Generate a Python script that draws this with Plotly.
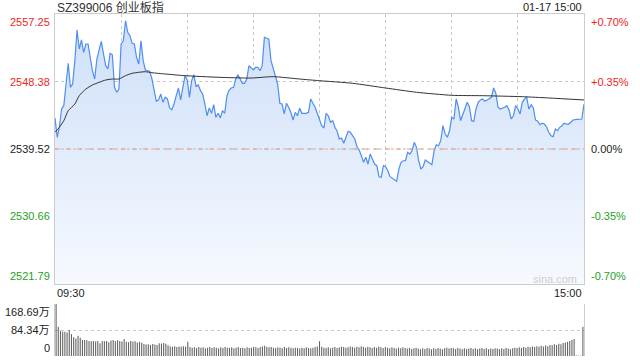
import plotly.graph_objects as go

# ---------------- data ----------------
title_text = "SZ399006 创业板指"
stamp_text = "01-17 15:00"
time_labels = ["09:30", "15:00"]
prev_close = 2539.52
price_ticks = [2557.25, 2548.38, 2539.52, 2530.66, 2521.79]
pct_labels = ["+0.70%", "+0.35%", "0.00%", "-0.35%", "-0.70%"]
vol_ticks = [168.69, 84.34, 0]
vol_labels = ["168.69万", "84.34万", "0"]

minutes = [0, 1, 2, 3, 4, 5, 6, 7, 8, 9, 10, 11, 12, 13, 14, 15, 16, 17, 18, 19,
           20, 21, 22, 23, 24, 25, 26, 27, 28, 29, 30, 31, 32, 33, 34, 35, 36, 37, 38, 39,
           40, 41, 43, 44, 45, 46, 47, 48, 49, 50, 51, 52, 53, 54, 55, 56, 57, 58, 59,
           60, 61, 62, 63, 64, 65, 66, 67, 68, 69, 70, 71, 72, 73, 74, 75, 76, 77, 78, 79,
           80, 81, 82, 83, 84, 85, 86, 87, 88, 89, 90, 91, 92, 93, 94, 95, 96, 97, 98, 99,
           100, 101, 102, 103, 104, 105, 106, 107, 108, 109, 110, 111, 112, 114, 115, 116, 117, 118, 119,
           120, 121, 122, 123, 124, 125, 126, 127, 128, 129, 130, 131, 132, 133, 134, 135, 136, 137, 138, 139,
           140, 141, 142, 143, 144, 145, 146, 147, 148, 149, 150, 151, 152, 153, 154, 155, 156, 157, 158, 159,
           160, 161, 162, 163, 164, 165, 166, 167, 168, 169, 170, 171, 172, 173, 174, 175, 176, 177, 178, 179,
           180, 181, 182, 183, 184, 185, 186, 187, 188, 189, 190, 191, 192, 193, 194, 195, 196, 197, 198, 199,
           200, 201, 202, 204, 205, 206, 207, 208, 209, 210, 211, 212, 213, 214, 215, 216, 217, 218, 219,
           220, 221, 222, 223, 224, 225, 226, 227, 228, 229, 230, 231, 232, 233, 234, 235, 237, 238, 239, 240]

prices = [2543.59, 2541.06, 2542.41, 2544.77, 2545.21, 2548.49, 2550.78, 2547.62, 2548.06, 2551.12,
          2555.15, 2552.65, 2553.84, 2552.22, 2553.31, 2553.31, 2551.56, 2549.80, 2548.71, 2551.34,
          2552.52, 2553.66, 2552.00, 2550.46, 2550.03, 2552.09, 2551.90, 2547.62, 2546.97, 2547.40,
          2553.31, 2553.74, 2556.37, 2554.85, 2554.40, 2553.40, 2553.31, 2551.56, 2550.68, 2553.74,
          2551.12, 2549.90, 2549.72, 2548.71, 2547.18, 2545.78, 2545.96, 2546.74, 2545.65, 2546.31,
          2546.09, 2544.91, 2544.68, 2545.43, 2546.52, 2547.53, 2545.96, 2547.40, 2549.15,
          2548.58, 2546.31, 2548.49, 2549.28, 2547.70, 2547.96, 2547.18, 2546.74, 2545.43, 2543.89,
          2544.91, 2544.21, 2545.34, 2543.68, 2544.21, 2543.59, 2544.55, 2544.21, 2546.52, 2547.27,
          2547.53, 2547.62, 2548.71, 2549.28, 2548.71, 2548.15, 2548.15, 2548.71, 2550.46, 2550.16,
          2549.90, 2550.25, 2550.25, 2549.80, 2550.46, 2554.19, 2554.10, 2553.93, 2551.12, 2550.03,
          2548.94, 2548.06, 2545.52, 2545.43, 2544.12, 2545.52, 2545.00, 2544.34, 2543.33, 2544.34,
          2543.89, 2544.87, 2544.21, 2544.21, 2544.34, 2546.09, 2545.52, 2545.00, 2544.21,
          2543.33, 2542.58, 2542.28, 2544.21, 2543.89, 2543.03, 2543.24, 2542.37, 2541.85, 2540.83,
          2540.97, 2540.27, 2541.06, 2541.85, 2541.71, 2541.27, 2540.83, 2539.82, 2539.39, 2538.64,
          2537.77, 2538.43, 2537.55, 2538.86, 2538.08, 2537.55, 2537.33, 2535.88, 2535.80, 2537.33,
          2537.20, 2536.67, 2535.88, 2535.67, 2535.49, 2535.28, 2536.89, 2537.77, 2537.98, 2537.98,
          2539.09, 2538.86, 2539.30, 2540.40, 2539.74, 2537.98, 2536.89, 2537.20, 2538.08, 2537.90,
          2537.64, 2537.46, 2539.30, 2540.08, 2539.95, 2540.61, 2542.58, 2541.49, 2541.06, 2541.92,
          2543.68, 2543.46, 2546.09, 2545.03, 2543.24, 2544.12, 2545.03, 2545.65, 2545.03, 2543.24,
          2543.16, 2544.77, 2545.65, 2545.96, 2546.09, 2545.78, 2545.96, 2546.09, 2546.31, 2547.53,
          2546.84, 2545.00, 2544.77, 2545.00, 2545.21, 2544.64, 2543.46, 2543.89, 2545.21, 2544.77,
          2544.12, 2545.65, 2546.09, 2546.31, 2544.77, 2545.34, 2544.91, 2543.33, 2543.16,
          2542.71, 2542.90, 2542.80, 2542.45, 2541.71, 2541.27, 2541.14, 2542.15, 2541.92, 2542.37,
          2542.58, 2542.90, 2542.80, 2542.80, 2543.03, 2543.33, 2543.42, 2543.42, 2543.46, 2545.43]

avg_minutes = [0, 2, 4, 6, 9, 11, 14, 17, 20, 23, 26, 29, 32, 35, 38, 41, 44, 50, 59,
               74, 89, 99, 111, 120, 135, 150, 164, 180, 194, 212, 224, 240]
avg_prices = [2541.71, 2542.37, 2543.24, 2544.55, 2545.43, 2546.52, 2547.40, 2547.93, 2548.28,
              2548.58, 2548.71, 2548.71, 2549.15, 2549.46, 2549.59, 2549.67, 2549.54, 2549.37,
              2549.15, 2548.94, 2548.84, 2549.02, 2548.71, 2548.49, 2548.15, 2547.53, 2546.97,
              2546.57, 2546.52, 2546.39, 2546.22, 2545.96]

volumes = [168.69, 95, 82, 79, 79, 76, 84, 71, 61, 57,
           66, 59, 52, 52, 51, 49, 48, 49, 47, 49,
           41, 49, 48, 49, 45, 50, 52, 48, 51, 49,
           47, 55, 46, 45, 49, 47, 48, 44, 46, 43,
           39, 37, 38, 36, 39, 37, 36, 41, 40, 42,
           40, 35, 31, 30, 32, 29, 31, 30, 32, 30,
           46, 29, 27, 28, 26, 29, 27, 28, 25, 27,
           29, 26, 28, 27, 25, 28, 26, 29, 27, 26,
           28, 25, 27, 29, 26, 27, 25, 28, 26, 27,
           30, 28, 26, 29, 31, 33, 30, 28, 29, 27,
           26, 28, 27, 25, 29, 26, 28, 27, 25, 27,
           26, 24, 27, 25, 28, 26, 25, 27, 29, 31,
           48, 30, 27, 26, 28, 25, 27, 29, 26, 28,
           30, 29, 27, 28, 31, 29, 27, 30, 28, 32,
           29, 27, 30, 28, 26, 29, 27, 31, 28, 26,
           29, 27, 25, 28, 26, 24, 27, 25, 28, 26,
           24, 26, 23, 25, 27, 24, 22, 25, 23, 26,
           24, 22, 25, 23, 26, 24, 22, 25, 27, 24,
           26, 25, 23, 26, 24, 22, 25, 23, 24, 26,
           23, 25, 22, 24, 26, 23, 25, 22, 24, 23,
           25, 24, 22, 25, 23, 26, 24, 22, 25, 27,
           26, 28, 26, 29, 27, 30, 28, 31, 29, 32,
           30, 33, 31, 34, 32, 36, 35, 38, 36, 40,
           38, 42, 44, 46, 49, 52, 55, 2, 1, 1,
           95]
vol_minutes = list(range(len(volumes)))

# ---------------- style ----------------
W, H = 640, 360
L, R = 55, 584
MAIN_T, MAIN_B = 14, 284
VOL_T, VOL_B = 304, 356
RED = "rgb(240,30,30)"
GREEN = "rgb(30,160,30)"
DARK = "#222"
GRID = "#c8c8c8"
FONT = "Liberation Sans, Arial, Noto Sans CJK SC, sans-serif"
tick_colors = [RED, RED, DARK, GREEN, GREEN]


def px_x(p):
    return p / W


def px_y(p):
    return 1 - p / H


fig = go.Figure()

# baseline for the gradient fill
fig.add_trace(go.Scatter(x=[minutes[0], minutes[-1]], y=[price_ticks[-1], price_ticks[-1]],
                         mode="lines", line=dict(width=0), hoverinfo="skip", showlegend=False))
fig.add_trace(go.Scatter(
    x=minutes, y=prices, mode="lines",
    line=dict(color="#4f8ef0", width=1.2),
    fill="tonexty",
    fillgradient=dict(type="vertical",
                      colorscale=[[0, "#f6f9fe"], [1, "#cddff9"]],
                      start=price_ticks[-1], stop=price_ticks[0]),
    hoverinfo="skip", showlegend=False))
fig.add_trace(go.Scatter(x=avg_minutes, y=avg_prices, mode="lines",
                         line=dict(color="#333333", width=1, shape="spline", smoothing=0.6),
                         hoverinfo="skip", showlegend=False))
fig.add_trace(go.Bar(x=vol_minutes, y=volumes, xaxis="x2", yaxis="y2",
                     marker=dict(color="#666666", line=dict(width=0)), width=0.5,
                     hoverinfo="skip", showlegend=False))

# zero (previous close) line: gray dots under orange dashes
fig.add_shape(type="line", xref="x", yref="y", x0=0, x1=240, y0=prev_close, y1=prev_close,
              line=dict(color="#bbbbbb", width=1, dash="dot"), layer="above")
fig.add_shape(type="line", xref="x", yref="y", x0=0, x1=240, y0=prev_close, y1=prev_close,
              line=dict(color="#e8a07e", width=1, dash="5px,6px"), layer="above")

ann = []
for v, pct, col in zip(price_ticks, pct_labels, tick_colors):
    if v == price_ticks[0]:
        ya = "top"
    elif v == price_ticks[-1]:
        ya = "bottom"
    else:
        ya = "middle"
    ann.append(dict(x=px_x(L - 3), xref="paper", y=v, yref="y", text=f"{v:.2f}",
                    xanchor="right", yanchor=ya, showarrow=False,
                    font=dict(size=11, color=col, family=FONT)))
    ann.append(dict(x=px_x(R + 5), xref="paper", y=v, yref="y", text=pct,
                    xanchor="left", yanchor=ya, showarrow=False,
                    font=dict(size=11, color=col, family=FONT)))

for v, lab in zip(vol_ticks, vol_labels):
    if v == vol_ticks[0]:
        ya = "top"
    elif v == 0:
        ya = "bottom"
    else:
        ya = "middle"
    ann.append(dict(x=px_x(L - 3), xref="paper", y=v, yref="y2", text=lab,
                    xanchor="right", yanchor=ya, showarrow=False,
                    font=dict(size=11, color=DARK, family=FONT)))

ann.append(dict(x=px_x(L), xref="paper", y=px_y(293), yref="paper", text=time_labels[0],
                xanchor="left", yanchor="middle", showarrow=False,
                font=dict(size=11, color=DARK, family=FONT)))
ann.append(dict(x=px_x(R), xref="paper", y=px_y(293), yref="paper", text=time_labels[1],
                xanchor="right", yanchor="middle", showarrow=False,
                font=dict(size=11, color=DARK, family=FONT)))
ann.append(dict(x=px_x(L), xref="paper", y=px_y(7), yref="paper", text=title_text,
                xanchor="left", yanchor="middle", showarrow=False,
                font=dict(size=12, color="#333333", family=FONT)))
ann.append(dict(x=px_x(R), xref="paper", y=px_y(7), yref="paper", text=stamp_text,
                xanchor="right", yanchor="middle", showarrow=False,
                font=dict(size=11, color=DARK, family=FONT)))
ann.append(dict(x=px_x(R - 5), xref="paper", y=px_y(279), yref="paper", text="sina.com",
                xanchor="right", yanchor="middle", showarrow=False,
                font=dict(size=11, color="#cfcfcf", family=FONT)))

fig.update_layout(
    width=W, height=H, margin=dict(l=0, r=0, t=0, b=0),
    paper_bgcolor="white", plot_bgcolor="white",
    showlegend=False, hovermode=False,
    font=dict(family=FONT, size=11, color=DARK),
    annotations=ann,
    xaxis=dict(domain=[px_x(L), px_x(R)], range=[0, 240], tickvals=[30, 60, 90, 120, 150, 180, 210],
               showticklabels=False, ticks="", showgrid=True, gridcolor=GRID, griddash="dot",
               gridwidth=1, zeroline=False, showline=True, linecolor="#cccccc", linewidth=1,
               mirror=True, fixedrange=True),
    yaxis=dict(domain=[px_y(MAIN_B), px_y(MAIN_T)], range=[price_ticks[-1], price_ticks[0]],
               tickvals=[price_ticks[1], price_ticks[3]], showticklabels=False, ticks="",
               showgrid=True, gridcolor=GRID, griddash="dot", zeroline=False,
               showline=True, linecolor="#cccccc", linewidth=1, mirror=True, fixedrange=True),
    xaxis2=dict(domain=[px_x(L), px_x(R)], range=[-0.5, 240.5], anchor="y2",
                showticklabels=False, ticks="", showgrid=False, zeroline=False,
                showline=False, fixedrange=True),
    yaxis2=dict(domain=[px_y(VOL_B), px_y(VOL_T)], range=[0, 168.7], anchor="x2",
                tickvals=[vol_ticks[1], vol_ticks[0]], showticklabels=False, ticks="",
                showgrid=True, gridcolor=GRID, griddash="dot", zeroline=False,
                showline=True, linecolor="#cccccc", linewidth=1, mirror=True, fixedrange=True),
)

fig.write_html(
    "out.html",
    config={"displayModeBar": False, "staticPlot": True},
    post_script="document.body.style.margin='0';document.body.style.overflow='hidden';",
)
